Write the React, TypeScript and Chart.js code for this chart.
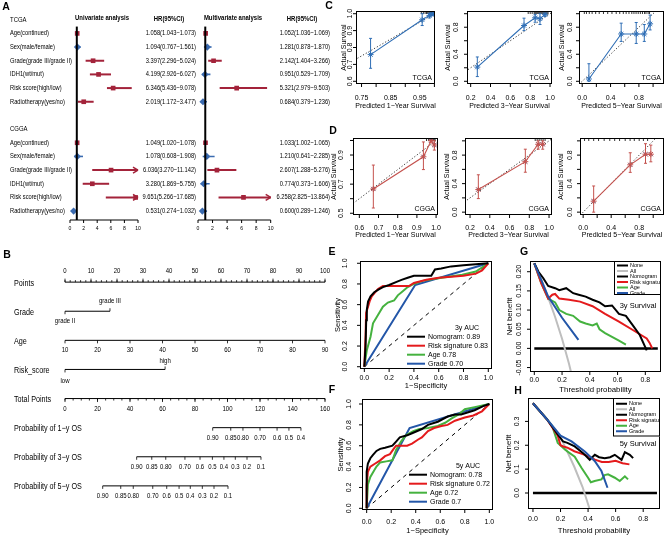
import React, { useEffect, useRef } from "react";
import { Chart, registerables } from "chart.js";

Chart.register(...registerables);

const W = 669;
const H = 538;
const FONT = "'Liberation Sans', Arial, Helvetica, sans-serif";

// ===== Panel A: forest plots =====
const forestVars = ["Age(continued)", "Sex(male/female)", "Grade(grade III/grade II)", "IDH1(wt/mut)", "Risk score(high/low)", "Radiotherapy(yes/no)"];
const forestCohorts = ["TCGA", "CGGA"];
const forestTicks = [0, 2, 4, 6, 8, 10];
const tcgaUniHR = [1.058, 1.094, 3.397, 4.199, 6.346, 2.019];
const tcgaUniLow = [1.043, 0.767, 2.296, 2.926, 5.436, 1.172];
const tcgaUniHigh = [1.073, 1.561, 5.024, 6.027, 9.078, 3.477];
const tcgaMultiHR = [1.052, 1.281, 2.142, 0.951, 5.321, 0.684];
const tcgaMultiLow = [1.036, 0.878, 1.404, 0.529, 2.979, 0.379];
const tcgaMultiHigh = [1.069, 1.87, 3.266, 1.709, 9.503, 1.236];
const cggaUniHR = [1.049, 1.078, 6.036, 3.28, 9.651, 0.531];
const cggaUniLow = [1.02, 0.608, 3.27, 1.869, 5.266, 0.274];
const cggaUniHigh = [1.078, 1.908, 11.142, 5.755, 17.685, 1.032];
const cggaMultiHR = [1.033, 1.21, 2.607, 0.774, 6.258, 0.6];
const cggaMultiLow = [1.002, 0.641, 1.288, 0.373, 2.825, 0.289];
const cggaMultiHigh = [1.065, 2.285, 5.276, 1.606, 13.864, 1.246];

// ===== Panel B: nomogram =====
const nomoRowLabels = ["Points", "Grade", "Age", "Risk_score", "Total Points", "Probability of 1\u2212y OS", "Probability of 3\u2212y OS", "Probability of 5\u2212y OS"];
const pointsTicks = [0, 10, 20, 30, 40, 50, 60, 70, 80, 90, 100];
const pointsMinorStep = 2;
const gradeLevels = ["grade II", "grade III"];
const gradePoints = [0, 17.3];
const ageTicks = [10, 20, 30, 40, 50, 60, 70, 80, 90];
const riskLevels = ["low", "high"];
const riskPoints = [0, 38.5];
const totalTicks = [0, 20, 40, 60, 80, 100, 120, 140, 160];
const totalMinorStep = 5;
const os1Labels = ["0.90", "0.85", "0.80", "0.70", "0.6", "0.5", "0.4"];
const os1Total = [90.9, 102, 109.5, 120, 130.5, 137.8, 145.2];
const os3Labels = ["0.90", "0.85", "0.80", "0.70", "0.6", "0.5", "0.4", "0.3", "0.2", "0.1"];
const os3Total = [44.1, 53.4, 62, 73.8, 83.1, 90.7, 97.8, 104.8, 112, 120.6];
const os5Labels = ["0.90", "0.85", "0.80", "0.70", "0.6", "0.5", "0.4", "0.3", "0.2", "0.1"];
const os5Total = [23.2, 34.3, 42, 54, 62.6, 70.2, 77.1, 84.5, 91.7, 100.3];

// ===== Panels C / D: calibration =====
const c1Pred = [0.781, 0.958, 0.983, 0.991, 0.998];
const c1Obs = [0.758, 0.964, 0.99, 0.998, 1.0];
const c1Lo = [0.677, 0.93, 0.975, 0.99, 0.995];
const c1Hi = [0.854, 1.0, 1.0, 1.0, 1.0];
const c1Rug = [0.955, 0.962, 0.968, 0.973, 0.977, 0.981, 0.984, 0.987, 0.99, 0.993, 0.995, 0.997, 0.999];
const c2Pred = [0.267, 0.738, 0.85, 0.899, 0.95];
const c2Obs = [0.21, 0.825, 0.94, 0.925, 0.99];
const c2Lo = [0.07, 0.75, 0.874, 0.84, 0.96];
const c2Hi = [0.36, 0.934, 0.99, 1.0, 1.0];
const c2Rug = [0.78, 0.8, 0.82, 0.84, 0.85, 0.86, 0.87, 0.88, 0.89, 0.9, 0.91, 0.92, 0.93, 0.94, 0.95, 0.96, 0.97, 0.98];
const c3Pred = [0.095, 0.55, 0.762, 0.876, 0.958];
const c3Obs = [0.034, 0.7, 0.7, 0.7, 0.85];
const c3Lo = [0.0, 0.59, 0.56, 0.59, 0.76];
const c3Hi = [0.26, 0.86, 0.87, 0.84, 0.98];
const c3Rug = [0.03, 0.06, 0.1, 0.14, 0.19, 0.24, 0.3, 0.36, 0.42, 0.48, 0.53, 0.58, 0.62, 0.66, 0.7, 0.73, 0.76, 0.79, 0.82, 0.85, 0.88, 0.9, 0.93, 0.95];
const d1Pred = [0.673, 0.934, 0.974, 0.991];
const d1Obs = [0.667, 0.888, 0.998, 0.969];
const d1Lo = [0.536, 0.8, 0.99, 0.934];
const d1Hi = [0.831, 0.99, 1.0, 0.998];
const d1Rug = [0.95, 0.96, 0.97, 0.975, 0.98, 0.985, 0.99, 0.995];
const d2Pred = [0.284, 0.76, 0.89, 0.936];
const d2Obs = [0.317, 0.708, 0.952, 0.952];
const d2Lo = [0.19, 0.56, 0.883, 0.883];
const d2Hi = [0.524, 0.883, 1.0, 1.0];
const d2Rug = [0.86, 0.88, 0.9, 0.92, 0.94, 0.96];
const d3Pred = [0.15, 0.672, 0.89, 0.966];
const d3Obs = [0.154, 0.664, 0.813, 0.813];
const d3Lo = [0.0, 0.558, 0.685, 0.706];
const d3Hi = [0.367, 0.833, 0.96, 0.94];
const d3Rug = [0.02, 0.08, 0.15, 0.22, 0.3, 0.38, 0.45, 0.52, 0.6, 0.67, 0.73, 0.8, 0.86, 0.92];
const calX1Ticks = [0.75, 0.8, 0.85, 0.9, 0.95, 1.0];
const calX1Labels = ["0.75", "", "0.85", "", "0.95", ""];
const calY1Ticks = [0.6, 0.7, 0.8, 0.9, 1.0];
const calY1Labels = ["0.6", "0.7", "0.8", "0.9", "1.0"];
const calX2Ticks = [0.2, 0.4, 0.6, 0.8, 1.0];
const calX2Labels = ["0.2", "0.4", "0.6", "0.8", "1.0"];
const calX3Ticks = [0, 0.2, 0.4, 0.6, 0.8, 1.0];
const calX3Labels = ["0.0", "", "0.4", "", "0.8", ""];
const calY23Ticks = [0, 0.2, 0.4, 0.6, 0.8, 1.0];
const calY23Labels = ["0.0", "", "0.4", "", "0.8", ""];
const calDX1Ticks = [0.6, 0.7, 0.8, 0.9, 1.0];
const calDX1Labels = ["0.6", "0.7", "0.8", "0.9", "1.0"];
const calDY1Ticks = [0.5, 0.6, 0.7, 0.8, 0.9, 1.0];
const calDY1Labels = ["0.5", "", "0.7", "", "0.9", ""];

// ===== Panels E / F: ROC =====
const unitTicks = [0, 0.2, 0.4, 0.6, 0.8, 1.0];
const unitLabels = ["0.0", "0.2", "0.4", "0.6", "0.8", "1.0"];
const rocNomo3 = [[0, 0], [0.01, 0.2], [0.015, 0.45], [0.02, 0.55], [0.03, 0.63], [0.05, 0.68], [0.08, 0.72], [0.12, 0.75], [0.15, 0.77], [0.2, 0.79], [0.26, 0.82], [0.3, 0.84], [0.35, 0.86], [0.4, 0.88], [0.54, 0.88], [0.57, 0.94], [0.62, 0.95], [0.7, 0.97], [0.8, 0.98], [0.9, 0.99], [1, 1]];
const rocRisk3 = [[0, 0], [0.01, 0.3], [0.014, 0.52], [0.03, 0.58], [0.045, 0.64], [0.06, 0.68], [0.08, 0.71], [0.11, 0.75], [0.15, 0.78], [0.36, 0.78], [0.4, 0.81], [0.5, 0.84], [0.6, 0.86], [0.7, 0.87], [0.8, 0.88], [0.9, 0.9], [0.95, 0.93], [1, 1]];
const rocAge3 = [[0, 0], [0.02, 0.16], [0.05, 0.29], [0.07, 0.42], [0.11, 0.5], [0.15, 0.58], [0.19, 0.62], [0.24, 0.64], [0.27, 0.69], [0.31, 0.73], [0.35, 0.77], [0.4, 0.8], [0.47, 0.83], [0.57, 0.85], [0.68, 0.87], [0.79, 0.89], [0.9, 0.92], [1, 1]];
const rocGrade3 = [[0, 0], [0.41, 0.79], [1, 1]];
const auc3Labels = ["Nomogram: 0.89", "Risk signature 0.83", "Age 0.78", "Grade 0.70"];
const rocNomo5 = [[0, 0], [0, 0.35], [0.01, 0.43], [0.03, 0.48], [0.05, 0.51], [0.08, 0.55], [0.11, 0.57], [0.15, 0.58], [0.21, 0.6], [0.24, 0.64], [0.27, 0.68], [0.33, 0.7], [0.37, 0.72], [0.45, 0.76], [0.5, 0.8], [0.58, 0.83], [0.66, 0.88], [0.72, 0.9], [0.77, 0.9], [0.88, 0.94], [0.95, 0.98], [1, 1]];
const rocRisk5 = [[0, 0], [0, 0.22], [0.01, 0.35], [0.03, 0.4], [0.07, 0.43], [0.11, 0.46], [0.15, 0.5], [0.19, 0.52], [0.22, 0.57], [0.24, 0.6], [0.33, 0.6], [0.37, 0.62], [0.42, 0.66], [0.45, 0.68], [0.5, 0.74], [0.55, 0.77], [0.61, 0.79], [0.66, 0.8], [0.72, 0.84], [0.8, 0.87], [0.87, 0.89], [0.94, 0.93], [1, 1]];
const rocAge5 = [[0, 0], [0.01, 0.23], [0.03, 0.3], [0.05, 0.34], [0.08, 0.4], [0.11, 0.44], [0.16, 0.45], [0.21, 0.46], [0.24, 0.56], [0.28, 0.64], [0.32, 0.7], [0.38, 0.74], [0.43, 0.76], [0.5, 0.77], [0.58, 0.79], [0.64, 0.82], [0.69, 0.86], [0.75, 0.9], [0.8, 0.95], [0.88, 0.97], [1, 1]];
const rocGrade5 = [[0, 0], [0.35, 0.77], [1, 1]];
const auc5Labels = ["Nomogram: 0.78", "Risk signature 0.72", "Age 0.72", "Grade 0.7"];

// ===== Panels G / H: decision curves =====
const dcaLegend = ["None", "All", "Nomogram", "Risk signature", "Age", "Grade"];
const dcaXTicks = [0, 0.2, 0.4, 0.6, 0.8];
const dcaXLabels = ["0.0", "0.2", "0.4", "0.6", "0.8"];
const dcaGYTicks = [-0.05, 0, 0.05, 0.1, 0.15, 0.2];
const dcaGYLabels = ["-0.05", "0.00", "0.05", "0.10", "0.15", "0.20"];
const dcaHYTicks = [0, 0.1, 0.2, 0.3];
const dcaHYLabels = ["0.0", "0.1", "0.2", "0.3"];
const dca3None = [[0, 0], [0.89, 0]];
const dca3All = [[0, 0.222], [0.05, 0.18], [0.1, 0.133], [0.15, 0.082], [0.2, 0.025], [0.25, -0.04], [0.3, -0.115]];
const dca3Nomo = [[0, 0.222], [0.03, 0.2], [0.065, 0.183], [0.1, 0.163], [0.15, 0.157], [0.18, 0.152], [0.23, 0.157], [0.28, 0.144], [0.32, 0.14], [0.37, 0.135], [0.42, 0.127], [0.47, 0.12], [0.51, 0.11], [0.56, 0.112], [0.61, 0.09], [0.66, 0.085], [0.71, 0.06], [0.76, 0.035], [0.81, -0.005]];
const dca3Risk = [[0, 0.222], [0.05, 0.17], [0.1, 0.13], [0.13, 0.14], [0.15, 0.142], [0.18, 0.13], [0.25, 0.127], [0.33, 0.122], [0.42, 0.11], [0.51, 0.09], [0.61, 0.07], [0.71, 0.048], [0.81, 0.026], [0.83, 0.015], [0.85, 0.0]];
const dca3Age = [[0, 0.222], [0.05, 0.17], [0.1, 0.13], [0.15, 0.12], [0.18, 0.1], [0.23, 0.09], [0.28, 0.085], [0.33, 0.07], [0.37, 0.065], [0.42, 0.06], [0.45, 0.065], [0.47, 0.05], [0.51, 0.04], [0.56, 0.03], [0.61, 0.02], [0.66, 0.01]];
const dca3Grade = [[0, 0.222], [0.1, 0.135], [0.2, 0.08], [0.318, 0.022]];
const dca5None = [[0, 0], [0.9, 0]];
const dca5All = [[0, 0.376], [0.1, 0.31], [0.2, 0.235], [0.3, 0.11], [0.36, 0.025], [0.41, -0.065]];
const dca5Nomo = [[0, 0.376], [0.1, 0.31], [0.18, 0.245], [0.218, 0.216], [0.25, 0.21], [0.303, 0.195], [0.364, 0.167], [0.412, 0.139], [0.449, 0.16], [0.48, 0.15], [0.521, 0.146], [0.56, 0.15], [0.594, 0.16], [0.643, 0.139], [0.667, 0.171], [0.703, 0.16], [0.727, 0.146]];
const dca5Risk = [[0, 0.376], [0.1, 0.31], [0.18, 0.24], [0.2, 0.2], [0.22, 0.195], [0.25, 0.19], [0.3, 0.175], [0.35, 0.165], [0.4, 0.155], [0.45, 0.14], [0.5, 0.13], [0.55, 0.13], [0.6, 0.135], [0.65, 0.125], [0.7, 0.12]];
const dca5Age = [[0, 0.376], [0.1, 0.31], [0.14, 0.28], [0.18, 0.21], [0.236, 0.18], [0.303, 0.152], [0.352, 0.106], [0.4, 0.064], [0.42, 0.045], [0.448, 0.05], [0.497, 0.057], [0.52, 0.075], [0.545, 0.078], [0.594, 0.064], [0.63, 0.05], [0.667, 0.07], [0.69, 0.057]];
const dca5Grade = [[0, 0.376], [0.1, 0.31], [0.2, 0.24], [0.28, 0.216], [0.376, 0.174], [0.448, 0.134], [0.497, 0.092], [0.541, 0.022]];

// ===== styles =====
const RED = "#A3233A";
const BLUE = "#3B6BB0";
const CAL_BLUE = "#2F6EB5";
const CAL_RED = "#C4524E";
const R_BLACK = "#000000";
const R_RED = "#E41A1C";
const R_GREEN = "#45B23F";
const R_BLUE = "#2356A8";
const GRAY = "#BEBEBE";

// ===== helpers =====
function T(ctx: any, s: string, x: number, y: number, size = 7, o: any = {}) {
  ctx.save();
  ctx.translate(x, y);
  if (o.rot) ctx.rotate(o.rot);
  if (o.sx) ctx.scale(o.sx, 1);
  ctx.font = `${o.bold ? "bold " : ""}${size}px ${FONT}`;
  ctx.textAlign = o.align || "center";
  ctx.textBaseline = o.base || "middle";
  ctx.fillStyle = o.color || "#000";
  ctx.fillText(s, 0, 0);
  ctx.restore();
}
function L(ctx: any, x1: number, y1: number, x2: number, y2: number, w = 1, c = "#000") {
  ctx.save();
  ctx.beginPath();
  ctx.moveTo(x1, y1);
  ctx.lineTo(x2, y2);
  ctx.lineWidth = w;
  ctx.strokeStyle = c;
  ctx.stroke();
  ctx.restore();
}
const pairs = (a: number[][]) => a.map(([x, y]) => ({ x, y }));
const lineDs = (data: any[], color: string, width: number, extra: any = {}) => ({
  data, showLine: true, borderColor: color, borderWidth: width, pointRadius: 0, pointHoverRadius: 0, fill: false, tension: 0, ...extra,
});

type Area = { l: number; t: number; r: number; b: number };
function base(area: Area, xr: number[], yr: number[], datasets: any[], draw: (c: any) => void, reverse = false) {
  return {
    type: "scatter",
    data: { datasets },
    options: {
      responsive: false, animation: false, devicePixelRatio: 1, events: [],
      layout: { padding: { left: area.l, top: area.t, right: W - area.r, bottom: H - area.b } },
      plugins: { legend: { display: false }, tooltip: { enabled: false }, title: { display: false } },
      scales: {
        x: { type: "linear", min: xr[0], max: xr[1], display: false },
        y: { type: "linear", min: yr[0], max: yr[1], display: false, reverse },
      },
    },
    plugins: [{ id: "rdraw", afterDatasetsDraw: (chart: any) => draw(chart) }],
  };
}

function rFrame(chart: any, s: any) {
  const { ctx, chartArea: a } = chart;
  const xs = chart.scales.x, ys = chart.scales.y;
  ctx.save();
  ctx.strokeStyle = "#000";
  ctx.lineWidth = 1;
  ctx.strokeRect(a.left + 0.5, a.top + 0.5, a.right - a.left - 1, a.bottom - a.top - 1);
  ctx.restore();
  const fs = s.fs || 7;
  s.xt.forEach((v: number, i: number) => {
    const p = xs.getPixelForValue(v);
    L(ctx, p, a.bottom, p, a.bottom + 3);
    if (s.xl[i]) T(ctx, s.xl[i], p, s.xLabY, fs);
  });
  s.yt.forEach((v: number, i: number) => {
    const p = ys.getPixelForValue(v);
    L(ctx, a.left - 3, p, a.left, p);
    if (s.yl[i]) T(ctx, s.yl[i], s.yLabX, p, fs, { rot: -Math.PI / 2 });
  });
  if (s.xTitle) T(ctx, s.xTitle, (a.left + a.right) / 2, s.xTitleY, s.tfs || fs);
  if (s.yTitle) T(ctx, s.yTitle, s.yTitleX, (a.top + a.bottom) / 2, s.tfs || fs, { rot: -Math.PI / 2 });
}

// ===== Panel A =====
function forestCfg(isUni: boolean) {
  const area = isUni ? { l: 70, t: 12.9, r: 138, b: 220 } : { l: 198, t: 12.9, r: 270.7, b: 220 };
  const groups = isUni
    ? [[tcgaUniHR, tcgaUniLow, tcgaUniHigh], [cggaUniHR, cggaUniLow, cggaUniHigh]]
    : [[tcgaMultiHR, tcgaMultiLow, tcgaMultiHigh], [cggaMultiHR, cggaMultiLow, cggaMultiHigh]];
  const ci: any[] = [];
  const redPts: any[] = [];
  const bluePts: any[] = [];
  const rows: any[] = [];
  groups.forEach((g, gi) => {
    const [hr, lo, hi] = g;
    hr.forEach((v, i) => {
      const row = gi * 8 + 1 + i;
      const sig = lo[i] > 1;
      ci.push(lineDs([{ x: lo[i], y: row }, { x: hi[i], y: row }], sig ? RED : BLUE, sig ? 2 : 1.6));
      (sig ? redPts : bluePts).push({ x: v, y: row });
      rows.push({ row, hr: v, lo: lo[i], hi: hi[i] });
    });
  });
  const ds = [
    { data: redPts, pointStyle: "rect", pointRadius: 3.3, pointBackgroundColor: RED, pointBorderColor: RED, pointBorderWidth: 0 },
    { data: bluePts, pointStyle: "rectRot", pointRadius: 3.6, pointBackgroundColor: BLUE, pointBorderColor: BLUE, pointBorderWidth: 0 },
    ...ci,
  ];
  const draw = (chart: any) => {
    const { ctx, chartArea: a } = chart;
    const xs = chart.scales.x, ys = chart.scales.y;
    const ry = (r: number) => ys.getPixelForValue(r);
    const x1 = xs.getPixelForValue(1);
    L(ctx, x1, ry(0.5), x1, a.bottom, 2);
    L(ctx, xs.getPixelForValue(forestTicks[0]), a.bottom, xs.getPixelForValue(forestTicks[forestTicks.length - 1]), a.bottom, 1);
    forestTicks.forEach((t) => {
      const p = xs.getPixelForValue(t);
      L(ctx, p, a.bottom, p, a.bottom + 3, 1);
      T(ctx, String(t), p, a.bottom + 8, 6, { sx: 0.85 });
    });
    const titleX = isUni ? 102 : 233;
    const hrTitleX = isUni ? 169 : 302;
    const hrRight = isUni ? 196 : 330;
    T(ctx, isUni ? "Univariate analysis" : "Multivariate analysis", titleX, ry(0) - 1.5, 7, { bold: true, sx: 0.85 });
    T(ctx, "HR(95%CI)", hrTitleX, ry(0) - 0.5, 7, { bold: true, sx: 0.85 });
    if (isUni) {
      T(ctx, "A", 6, 7, 10.5, { bold: true });
      forestCohorts.forEach((c, gi) => {
        T(ctx, c, 10, ry(gi * 8), 7, { align: "left", sx: 0.85, bold: false });
        forestVars.forEach((v, i) => T(ctx, v, 10, ry(gi * 8 + 1 + i), 7, { align: "left", sx: 0.82 }));
      });
    }
    rows.forEach((r) => {
      const s = `${r.hr.toFixed(3)}(${r.lo.toFixed(3)}\u2212${r.hi.toFixed(3)})`;
      T(ctx, s, hrRight, ry(r.row), 7, { align: "right", sx: 0.82 });
      if (r.hi > xs.max) {
        const y = ry(r.row);
        const p = a.right;
        L(ctx, p - 5, y - 3, p, y, 1.5, RED);
        L(ctx, p - 5, y + 3, p, y, 1.5, RED);
      }
    });
  };
  return base(area, [0, 10], [-0.5, 14.65], ds, draw, true);
}
const forestUni = () => forestCfg(true);
const forestMulti = () => forestCfg(false);

// ===== Panel B =====
function nomogram() {
  const ptsMax = pointsTicks[pointsTicks.length - 1];
  const totMax = totalTicks[totalTicks.length - 1];
  const k = totMax / ptsMax;
  const ageToPts = (a: number) => ((a - ageTicks[0]) / (ageTicks[ageTicks.length - 1] - ageTicks[0])) * ptsMax;
  const ds = [
    lineDs([{ x: 0, y: 0 }, { x: ptsMax * k, y: 0 }], "#000", 1),
    lineDs([{ x: gradePoints[0] * k, y: 1 }, { x: gradePoints[1] * k, y: 1 }], "#000", 1),
    lineDs([{ x: ageToPts(ageTicks[0]) * k, y: 2 }, { x: ageToPts(ageTicks[ageTicks.length - 1]) * k, y: 2 }], "#000", 1),
    lineDs([{ x: riskPoints[0] * k, y: 3 }, { x: riskPoints[1] * k, y: 3 }], "#000", 1),
    lineDs([{ x: 0, y: 4 }, { x: totMax, y: 4 }], "#000", 1),
    lineDs([{ x: os1Total[0], y: 5 }, { x: os1Total[os1Total.length - 1], y: 5 }], "#000", 1),
    lineDs([{ x: os3Total[0], y: 6 }, { x: os3Total[os3Total.length - 1], y: 6 }], "#000", 1),
    lineDs([{ x: os5Total[0], y: 7 }, { x: os5Total[os5Total.length - 1], y: 7 }], "#000", 1),
  ];
  const draw = (chart: any) => {
    const { ctx } = chart;
    const xs = chart.scales.x, ys = chart.scales.y;
    const X = (tot: number) => xs.getPixelForValue(tot);
    const P = (p: number) => X(p * k);
    const Y = (r: number) => ys.getPixelForValue(r);
    const fs = 7.5, sx = 0.8, lw = 0.8;
    T(ctx, "B", 7, 255, 10.5, { bold: true });
    nomoRowLabels.forEach((s, r) => T(ctx, s, 14, Y(r) + 1, 9, { align: "left", sx: 0.8 }));
    // Points
    let y = Y(0);
    for (let p = 0; p <= ptsMax; p += pointsMinorStep) L(ctx, P(p), y, P(p), y - 2, lw);
    pointsTicks.forEach((p) => { L(ctx, P(p), y, P(p), y - 3.5, lw); T(ctx, String(p), P(p), y - 11, fs, { sx }); });
    // Grade
    y = Y(1);
    L(ctx, P(gradePoints[0]), y, P(gradePoints[0]), y + 3, lw);
    L(ctx, P(gradePoints[1]), y, P(gradePoints[1]), y - 3, lw);
    T(ctx, gradeLevels[0], P(gradePoints[0]), y + 10, fs, { sx });
    T(ctx, gradeLevels[1], P(gradePoints[1]), y - 10, fs, { sx });
    // Age
    y = Y(2);
    ageTicks.forEach((a) => { const p = P(ageToPts(a)); L(ctx, p, y, p, y + 3, lw); T(ctx, String(a), p, y + 10, fs, { sx }); });
    // Risk
    y = Y(3);
    L(ctx, P(riskPoints[0]), y, P(riskPoints[0]), y + 3, lw);
    L(ctx, P(riskPoints[1]), y, P(riskPoints[1]), y - 3, lw);
    T(ctx, riskLevels[0], P(riskPoints[0]), y + 11, fs, { sx });
    T(ctx, riskLevels[1], P(riskPoints[1]), y - 9, fs, { sx });
    // Total points
    y = Y(4);
    for (let t = 0; t <= totMax; t += totalMinorStep) L(ctx, X(t), y, X(t), y + 2, lw);
    totalTicks.forEach((t) => { L(ctx, X(t), y, X(t), y + 3.5, lw); T(ctx, String(t), X(t), y + 10, fs, { sx }); });
    // Probabilities
    const probs: [string[], number[], number][] = [[os1Labels, os1Total, 5], [os3Labels, os3Total, 6], [os5Labels, os5Total, 7]];
    probs.forEach(([labs, tots, r]) => {
      const yy = Y(r);
      tots.forEach((t, i) => { L(ctx, X(t), yy, X(t), yy + 3, lw); T(ctx, labs[i], X(t), yy + 10, fs, { sx }); });
    });
  };
  return base({ l: 65, t: 253, r: 325, b: 515 }, [0, totMax], [-1, 8], ds, draw, true);
}

// ===== Panels C / D =====
function calib(area: Area, xr: number[], yr: number[], pred: number[], obs: number[], lo: number[], hi: number[], rug: number[], color: string, isD: boolean, frame: any, tag: string, letter?: string) {
  const pts = pred.map((x, i) => ({ x, y: obs[i] }));
  const ds: any[] = [
    { data: pts, showLine: true, borderColor: color, borderWidth: 1.1, pointStyle: "star", pointRadius: 3, pointBorderColor: color, pointBorderWidth: 1, tension: 0 },
  ];
  if (isD) ds.push({ data: pts, showLine: false, pointStyle: "crossRot", pointRadius: 2.6, pointBorderColor: CAL_BLUE, pointBorderWidth: 1 });
  pred.forEach((x, i) => ds.push(lineDs([{ x, y: lo[i] }, { x, y: hi[i] }], color, 1, { pointStyle: "line", pointRadius: 1.5, pointBorderColor: color, pointBorderWidth: 1 })));
  ds.push(lineDs([{ x: Math.min(xr[0], yr[0]), y: Math.min(xr[0], yr[0]) }, { x: Math.max(xr[1], yr[1]), y: Math.max(xr[1], yr[1]) }], "#333", 1, { borderDash: [1.2, 2] }));
  ds.push({ data: rug.map((x) => ({ x, y: yr[1] })), showLine: false, pointStyle: "line", pointRotation: 90, pointRadius: 3, pointBorderColor: "#000", pointBorderWidth: 0.8 });
  const draw = (chart: any) => {
    const { ctx, chartArea: a } = chart;
    rFrame(chart, frame);
    T(ctx, tag, a.right - 3, a.bottom - 6, 7, { align: "right" });
    if (letter) T(ctx, letter, letter === "C" ? 329 : 333, letter === "C" ? 6 : 131.5, 10.5, { bold: true });
  };
  return base(area, xr, yr, ds, draw);
}
const calFrame = (xt: number[], xl: string[], yt: number[], yl: string[], row: string, yLabX: number, yTitleX: number, yr: number) => ({
  xt, xl, yt, yl, fs: 7,
  xLabY: row === "C" ? 98 : 228,
  xTitleY: row === "C" ? 106.5 : 235.5,
  xTitle: `Predicted ${yr}\u2212Year Survival`,
  yTitle: "Actual Survival", yLabX, yTitleX,
});
const c1 = () => calib({ l: 356, t: 11, r: 435, b: 84 }, [0.731, 1.002], [0.584, 1.016], c1Pred, c1Obs, c1Lo, c1Hi, c1Rug, CAL_BLUE, false, calFrame(calX1Ticks, calX1Labels, calY1Ticks, calY1Labels, "C", 350, 344, 1), "TCGA", "C");
const c2 = () => calib({ l: 467, t: 11, r: 552, b: 84 }, [0.163, 1.02], [-0.04, 1.04], c2Pred, c2Obs, c2Lo, c2Hi, c2Rug, CAL_BLUE, false, calFrame(calX2Ticks, calX2Labels, calY23Ticks, calY23Labels, "C", 456, 448.5, 3), "TCGA");
const c3 = () => calib({ l: 579, t: 11, r: 667, b: 84 }, [-0.045, 1.154], [-0.04, 1.04], c3Pred, c3Obs, c3Lo, c3Hi, c3Rug, CAL_BLUE, false, calFrame(calX3Ticks, calX3Labels, calY23Ticks, calY23Labels, "C", 570.5, 562, 5), "TCGA");
const d1 = () => calib({ l: 353, t: 138, r: 438, b: 215 }, [0.567, 1.01], [0.488, 1.017], d1Pred, d1Obs, d1Lo, d1Hi, d1Rug, CAL_RED, true, calFrame(calDX1Ticks, calDX1Labels, calDY1Ticks, calDY1Labels, "D", 341.5, 334, 1), "CGGA", "D");
const d2 = () => calib({ l: 465, t: 138, r: 552, b: 215 }, [0.149, 1.03], [-0.04, 1.04], d2Pred, d2Obs, d2Lo, d2Hi, d2Rug, CAL_RED, true, calFrame(calX2Ticks, calX2Labels, calY23Ticks, calY23Labels, "D", 455.5, 447.5, 3), "CGGA");
const d3 = () => calib({ l: 580, t: 138, r: 667, b: 215 }, [-0.045, 1.154], [-0.04, 1.04], d3Pred, d3Obs, d3Lo, d3Hi, d3Rug, CAL_RED, true, calFrame(calX3Ticks, calX3Labels, calY23Ticks, calY23Labels, "D", 570.5, 561.5, 5), "CGGA");

// ===== Panels E / F =====
function roc(area: Area, xr: number[], yr: number[], curves: number[][][], title: string, labels: string[], lay: any) {
  const colors = [R_BLACK, R_RED, R_GREEN, R_BLUE];
  const ds: any[] = curves.map((c, i) => lineDs(pairs(c), colors[i], 2));
  ds.push(lineDs([{ x: 0, y: 0 }, { x: 1, y: 1 }], "#000", 1, { borderDash: [4, 4] }));
  const draw = (chart: any) => {
    const { ctx } = chart;
    rFrame(chart, { xt: unitTicks, xl: unitLabels, yt: unitTicks, yl: unitLabels, fs: 7, tfs: 7.5, xLabY: lay.xLabY, xTitleY: lay.xTitleY, xTitle: "1\u2212Specificity", yTitle: "Sensitivity", yLabX: lay.yLabX, yTitleX: lay.yTitleX });
    T(ctx, lay.letter, lay.lx, lay.ly, 10.5, { bold: true });
    T(ctx, title, lay.titleX, lay.titleY, 7);
    labels.forEach((s, i) => {
      const y = lay.titleY + 9 * (i + 1);
      L(ctx, lay.lineX0, y, lay.lineX1, y, 2, colors[i]);
      T(ctx, s, lay.textX, y, 7, { align: "left" });
    });
  };
  return base(area, xr, yr, ds, draw);
}
const rocE = () => roc({ l: 360, t: 261, r: 492, b: 369 }, [-0.035, 1.03], [-0.022, 1.022], [rocNomo3, rocRisk3, rocAge3, rocGrade3], "3y AUC", auc3Labels,
  { xLabY: 378, xTitleY: 386, yLabX: 345, yTitleX: 338, letter: "E", lx: 332, ly: 252, titleX: 467, titleY: 327.7, lineX0: 407, lineX1: 425, textX: 428 });
const rocF = () => roc({ l: 362, t: 399, r: 493, b: 510 }, [-0.038, 1.03], [-0.016, 1.048], [rocNomo5, rocRisk5, rocAge5, rocGrade5], "5y AUC", auc5Labels,
  { xLabY: 521.7, xTitleY: 530.5, yLabX: 349, yTitleX: 341, letter: "F", lx: 332, ly: 390.5, titleX: 468, titleY: 465.7, lineX0: 409, lineX1: 427, textX: 430 });

// ===== Panels G / H =====
function dca(area: Area, xr: number[], yr: number[], cur: any, yt: number[], yl: string[], lay: any) {
  const ds: any[] = [
    lineDs(pairs(cur.grade), R_BLUE, 2),
    lineDs(pairs(cur.nomo), R_BLACK, 2),
    lineDs(pairs(cur.risk), R_RED, 2),
    lineDs(pairs(cur.age), R_GREEN, 2),
    lineDs(pairs(cur.all), GRAY, 2),
    lineDs(pairs(cur.none), R_BLACK, 2.5),
  ];
  const legColors = [R_BLACK, GRAY, R_BLACK, R_RED, R_GREEN, R_BLUE];
  const draw = (chart: any) => {
    const { ctx, chartArea: a } = chart;
    rFrame(chart, { xt: dcaXTicks, xl: dcaXLabels, yt, yl, fs: 7, tfs: 7.8, xLabY: lay.xLabY, xTitleY: lay.xTitleY, xTitle: "Threshold probability", yTitle: "Net benefit", yLabX: lay.yLabX, yTitleX: lay.yTitleX });
    T(ctx, lay.letter, lay.lx, lay.ly, 10.5, { bold: true });
    T(ctx, lay.survival, lay.sx, lay.sy, 7.5);
    const bx = lay.legL, by = a.top, bw = a.right - lay.legL, bh = lay.legH;
    ctx.save();
    ctx.fillStyle = "#fff";
    ctx.fillRect(bx, by, bw, bh);
    ctx.strokeStyle = "#000";
    ctx.lineWidth = 1;
    ctx.strokeRect(bx + 0.5, by + 0.5, bw - 1, bh - 1);
    ctx.beginPath();
    ctx.rect(bx, by, bw - 1, bh);
    ctx.clip();
    dcaLegend.forEach((s, i) => {
      const y = by + lay.legY0 + 5.5 * i;
      L(ctx, bx + 3, y, bx + 14, y, 2, legColors[i]);
      T(ctx, s, bx + 16, y, 5.5, { align: "left" });
    });
    ctx.restore();
  };
  return base(area, xr, yr, ds, draw);
}
const dcaG = () => dca({ l: 530, t: 261, r: 661, b: 372 }, [-0.031, 0.913], [-0.0616, 0.228],
  { none: dca3None, all: dca3All, nomo: dca3Nomo, risk: dca3Risk, age: dca3Age, grade: dca3Grade }, dcaGYTicks, dcaGYLabels,
  { xLabY: 380, xTitleY: 390, yLabX: 519, yTitleX: 510, letter: "G", lx: 524, ly: 252, survival: "3y Survival", sx: 638, sy: 306, legL: 614, legH: 34, legY0: 4.5 });
const dcaH = () => dca({ l: 528, t: 398, r: 660, b: 509 }, [-0.036, 0.922], [-0.067, 0.398],
  { none: dca5None, all: dca5All, nomo: dca5Nomo, risk: dca5Risk, age: dca5Age, grade: dca5Grade }, dcaHYTicks, dcaHYLabels,
  { xLabY: 519.3, xTitleY: 530.5, yLabX: 517.5, yTitleX: 509, letter: "H", lx: 518, ly: 390.7, survival: "5y Survival", sx: 638, sy: 444, legL: 613, legH: 38.5, legY0: 5.7 });

const makers = [forestUni, forestMulti, nomogram, c1, c2, c3, d1, d2, d3, rocE, rocF, dcaG, dcaH];

function ChartCanvas({ make }: { make: () => any }) {
  const ref = useRef<HTMLCanvasElement>(null);
  useEffect(() => {
    const chart = new Chart(ref.current as HTMLCanvasElement, make() as any);
    return () => chart.destroy();
  }, [make]);
  return <canvas ref={ref} width={W} height={H} style={{ position: "absolute", left: 0, top: 0, width: W, height: H }} />;
}

export default function App() {
  return (
    <div style={{ position: "fixed", left: 0, top: 0, width: W, height: H, background: "#fff", overflow: "hidden" }}>
      {makers.map((m, i) => (
        <ChartCanvas key={i} make={m} />
      ))}
    </div>
  );
}
